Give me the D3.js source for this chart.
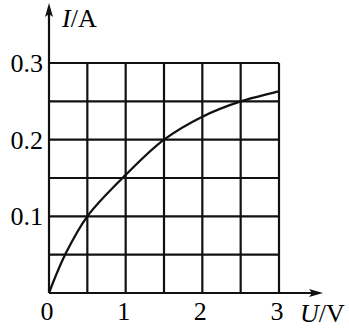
<!DOCTYPE html>
<html>
<head>
<meta charset="utf-8">
<script src="https://cdn.jsdelivr.net/npm/d3@7"></script>
<style>
  html, body { margin: 0; padding: 0; background: #fff; }
  svg { display: block; }
  text { font-family: "Liberation Serif", "DejaVu Serif", serif; fill: #000; }
</style>
</head>
<body>
<div id="chart"></div>
<script>
// I-U curve
const voltage = [0, 0.07, 0.21, 0.5, 1.0, 1.5, 2.0, 2.5, 3.0];
const current = [0, 0.018, 0.05, 0.1, 0.154, 0.2, 0.23, 0.25, 0.263];

const uGrid = [0, 0.5, 1, 1.5, 2, 2.5, 3];
const iGrid = [0, 0.05, 0.1, 0.15, 0.2, 0.25, 0.3];
const uTicks = [1, 2, 3];
const iTicks = [0.1, 0.2, 0.3];

const W = 349, H = 329;
const x = d3.scaleLinear().domain([0, 3]).range([49, 279]);
const y = d3.scaleLinear().domain([0, 0.3]).range([293, 63]);

const svg = d3.select("#chart").append("svg")
  .attr("width", W).attr("height", H)
  .attr("viewBox", [0, 0, W, H]);

/* ===== grid ===== */
const grid = svg.append("g").attr("stroke", "#111").attr("stroke-width", 2.2);
grid.selectAll("line.v").data(uGrid.slice(1)).join("line")
  .attr("class", "v")
  .attr("x1", d => x(d)).attr("x2", d => x(d))
  .attr("y1", y(0)).attr("y2", y(0.3));
grid.selectAll("line.h").data(iGrid.slice(1)).join("line")
  .attr("class", "h")
  .attr("x1", x(0)).attr("x2", x(3))
  .attr("y1", d => y(d)).attr("y2", d => y(d));

/* ===== axes with arrows ===== */
const ax = svg.append("g").attr("stroke", "#111").attr("stroke-width", 2.2);
const x0 = x(0), y0 = y(0);
const xEnd = 323, yEnd = 3;
ax.append("line").attr("x1", x0).attr("y1", y0).attr("x2", xEnd - 6).attr("y2", y0);
ax.append("line").attr("x1", x0).attr("y1", y0).attr("x2", x0).attr("y2", yEnd + 6);
svg.append("path")
  .attr("d", `M${xEnd},${y0} L${xEnd - 14},${y0 - 4} L${xEnd - 11},${y0} L${xEnd - 14},${y0 + 4} Z`)
  .attr("fill", "#111");
svg.append("path")
  .attr("d", `M${x0},${yEnd} L${x0 - 4},${yEnd + 14} L${x0},${yEnd + 11} L${x0 + 4},${yEnd + 14} Z`)
  .attr("fill", "#111");

/* ===== curve ===== */
const pts = voltage.map((u, i) => [u, current[i]]);
svg.append("path")
  .datum(pts)
  .attr("fill", "none")
  .attr("stroke", "#111")
  .attr("stroke-width", 2.3)
  .attr("d", d3.line().x(d => x(d[0])).y(d => y(d[1])).curve(d3.curveCatmullRom.alpha(0.5)));

/* ===== labels ===== */
const fs = 26;
svg.selectAll("text.yt").data(iTicks).join("text")
  .attr("class", "yt")
  .attr("x", x0 - 6).attr("y", d => y(d) + 9)
  .attr("text-anchor", "end")
  .attr("font-size", fs)
  .text(d => d.toFixed(1));
svg.selectAll("text.xt").data(uTicks).join("text")
  .attr("class", "xt")
  .attr("x", d => x(d) - 2).attr("y", 320)
  .attr("text-anchor", "middle")
  .attr("font-size", fs)
  .text(d => d);
svg.append("text")
  .attr("x", x0 - 2).attr("y", 320)
  .attr("text-anchor", "middle")
  .attr("font-size", fs)
  .text("0");

const yl = svg.append("text").attr("x", 62).attr("y", 27).attr("font-size", 26);
yl.append("tspan").attr("font-style", "italic").text("I");
yl.append("tspan").text("/A");
const xl = svg.append("text").attr("x", 300).attr("y", 322).attr("font-size", 26);
xl.append("tspan").attr("font-style", "italic").text("U");
xl.append("tspan").text("/V");
</script>
</body>
</html>
